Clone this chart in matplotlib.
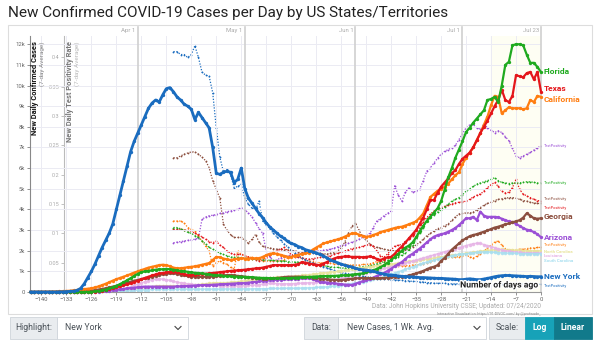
import numpy as np
import matplotlib.pyplot as plt
import matplotlib.patheffects as pe
from matplotlib.patches import Rectangle
from matplotlib.lines import Line2D

plt.rcParams['font.family'] = ['Roboto', 'DejaVu Sans']

W, H = 600, 341

# day offsets relative to Jul 23 (day 0)
days = np.arange(-143, 1)
pos_days = np.arange(-103, 1)
pale_days = np.arange(-120, 1)

# new daily cases, 7-day average, in thousands
ny_cases = [0, 0, 0, 0, 0, 0, 0, 0, 0.01, 0.01, 0.02, 0.03,
            0.04, 0.08, 0.18, 0.4, 0.7, 1.0, 1.35, 1.75, 2.15, 2.5, 2.85, 3.3,
            4.0, 4.7, 5.4, 6.1, 6.8, 7.3, 7.7, 8.1, 8.5, 8.9, 9.15, 9.3,
            9.2, 9.55, 9.85, 9.9, 9.7, 9.45, 9.3, 9.1, 9.0, 8.85, 8.35, 8.7,
            8.45, 8.2, 7.95, 7.0, 5.75, 5.7, 5.8, 5.85, 5.8, 5.3, 5.45, 6.0,
            5.0, 4.55, 4.3, 4.05, 3.8, 3.6, 3.35, 3.15, 3.0, 2.85, 2.7, 2.6,
            2.45, 2.35, 2.3, 2.2, 2.15, 2.05, 2.0, 1.95, 1.9, 1.82, 1.75, 1.65,
            1.55, 1.48, 1.42, 1.35, 1.3, 1.25, 1.22, 1.15, 1.1, 1.08, 1.06, 1.04,
            1.0, 0.95, 0.9, 0.87, 0.84, 0.82, 0.8, 0.78, 0.76, 0.75, 0.74, 0.73,
            0.72, 0.7, 0.7, 0.69, 0.68, 0.67, 0.66, 0.66, 0.65, 0.64, 0.63, 0.62,
            0.6, 0.6, 0.62, 0.64, 0.62, 0.6, 0.6, 0.63, 0.66, 0.7, 0.74, 0.77,
            0.79, 0.8, 0.8, 0.79, 0.78, 0.77, 0.76, 0.75, 0.76, 0.75, 0.74, 0.74]

fl_cases = [0, 0, 0, 0, 0, 0, 0, 0, 0, 0, 0, 0,
            0, 0, 0, 0, 0, 0.01, 0.03, 0.05, 0.08, 0.12, 0.17, 0.23,
            0.3, 0.38, 0.47, 0.57, 0.67, 0.78, 0.88, 0.96, 1.0, 1.02, 1.05, 1.08,
            1.1, 1.1, 1.12, 1.1, 1.08, 1.05, 1.02, 1.0, 0.98, 0.95, 0.93, 0.92,
            0.9, 0.88, 0.85, 0.83, 0.82, 0.8, 0.78, 0.76, 0.76, 0.75, 0.74, 0.74,
            0.73, 0.72, 0.72, 0.7, 0.69, 0.68, 0.68, 0.67, 0.66, 0.66, 0.66, 0.66,
            0.67, 0.68, 0.69, 0.7, 0.71, 0.72, 0.73, 0.74, 0.75, 0.76, 0.77, 0.77,
            0.78, 0.78, 0.79, 0.8, 0.81, 0.82, 0.84, 0.86, 0.88, 0.9, 0.95, 1.0,
            1.05, 1.12, 1.2, 1.3, 1.42, 1.55, 1.7, 1.85, 2.0, 2.15, 2.25, 2.4,
            2.65, 2.95, 3.2, 3.45, 3.65, 3.85, 4.05, 4.4, 4.95, 5.55, 6.0, 6.5,
            6.9, 7.3, 7.75, 7.95, 8.2, 8.4, 8.6, 8.8, 9.3, 9.35, 9.45, 9.2,
            10.0, 11.0, 11.15, 11.95, 12.0, 12.0, 11.95, 11.5, 11.1, 11.1, 10.9, 10.65]

tx_cases = [0, 0, 0, 0, 0, 0, 0, 0, 0, 0, 0, 0,
            0, 0, 0, 0, 0, 0, 0.02, 0.04, 0.07, 0.1, 0.14, 0.18,
            0.22, 0.27, 0.32, 0.37, 0.42, 0.48, 0.55, 0.62, 0.68, 0.74, 0.8, 0.85,
            0.9, 0.92, 0.95, 0.97, 0.98, 0.95, 0.9, 0.86, 0.83, 0.82, 0.83, 0.85,
            0.87, 0.88, 0.9, 0.92, 0.94, 0.96, 0.98, 1.0, 1.02, 1.03, 1.05, 1.06,
            1.08, 1.1, 1.12, 1.14, 1.15, 1.18, 1.22, 1.26, 1.3, 1.3, 1.3, 1.3,
            1.3, 1.3, 1.32, 1.35, 1.45, 1.42, 1.38, 1.35, 1.32, 1.3, 1.38, 1.45,
            1.55, 1.62, 1.68, 1.7, 1.72, 1.72, 1.7, 1.7, 1.7, 1.68, 1.7, 1.72,
            1.68, 1.6, 1.55, 1.62, 1.68, 1.7, 1.85, 2.05, 2.2, 2.4, 2.6, 2.8,
            3.0, 3.3, 3.6, 4.0, 4.45, 4.45, 4.8, 5.1, 5.3, 5.5, 5.75, 5.9,
            6.2, 6.45, 6.6, 6.75, 7.0, 7.35, 7.7, 8.0, 8.3, 8.65, 9.0, 9.3,
            9.8, 9.3, 9.2, 9.5, 10.5, 10.45, 10.4, 10.6, 10.66, 10.3, 10.66, 9.7]

ca_cases = [0, 0, 0.01, 0.01, 0.01, 0.01, 0.02, 0.02, 0.03, 0.04, 0.05, 0.06,
            0.08, 0.1, 0.12, 0.14, 0.16, 0.18, 0.22, 0.27, 0.33, 0.4, 0.47, 0.55,
            0.62, 0.68, 0.74, 0.8, 0.87, 0.94, 1.0, 1.06, 1.12, 1.18, 1.22, 1.26,
            1.3, 1.32, 1.3, 1.25, 1.18, 1.15, 1.15, 1.17, 1.2, 1.22, 1.24, 1.28,
            1.32, 1.36, 1.4, 1.55, 1.7, 1.68, 1.62, 1.58, 1.55, 1.58, 1.62, 1.63,
            1.62, 1.62, 1.63, 1.63, 1.63, 1.7, 1.78, 1.85, 1.87, 1.85, 1.8, 1.75,
            1.7, 1.7, 1.75, 1.8, 1.85, 1.87, 1.9, 2.05, 2.15, 2.25, 2.35, 2.4,
            2.45, 2.5, 2.55, 2.6, 2.68, 2.76, 2.84, 2.84, 2.78, 2.72, 2.67, 2.7,
            2.76, 2.82, 2.9, 2.95, 3.0, 3.05, 3.1, 3.14, 3.16, 3.22, 3.28, 3.35,
            3.42, 3.6, 3.8, 4.2, 4.6, 4.75, 4.9, 5.0, 5.1, 5.25, 5.45, 5.65,
            5.8, 6.2, 6.5, 6.75, 7.0, 7.35, 7.7, 8.1, 8.5, 9.05, 9.5, 9.45,
            8.65, 8.8, 8.95, 8.9, 8.9, 8.9, 8.85, 8.9, 9.3, 9.2, 9.5, 9.45]

ga_cases = [0, 0, 0, 0, 0, 0, 0, 0, 0, 0, 0, 0,
            0, 0, 0.01, 0.02, 0.04, 0.06, 0.09, 0.12, 0.15, 0.18, 0.22, 0.26,
            0.3, 0.35, 0.4, 0.45, 0.5, 0.55, 0.58, 0.62, 0.66, 0.7, 0.74, 0.78,
            0.82, 0.86, 0.88, 0.9, 0.9, 0.88, 0.84, 0.8, 0.77, 0.75, 0.74, 0.74,
            0.73, 0.74, 0.74, 0.75, 0.76, 0.78, 0.8, 0.82, 0.82, 0.8, 0.78, 0.76,
            0.74, 0.72, 0.7, 0.68, 0.66, 0.65, 0.65, 0.66, 0.67, 0.68, 0.7, 0.72,
            0.74, 0.74, 0.74, 0.74, 0.74, 0.73, 0.72, 0.7, 0.68, 0.65, 0.63, 0.62,
            0.6, 0.59, 0.58, 0.58, 0.6, 0.62, 0.64, 0.66, 0.67, 0.68, 0.68, 0.67,
            0.66, 0.66, 0.67, 0.68, 0.7, 0.71, 0.72, 0.73, 0.74, 0.76, 0.8, 0.85,
            0.9, 0.96, 1.02, 1.1, 1.18, 1.22, 1.3, 1.5, 1.65, 1.85, 2.05, 2.2,
            2.35, 2.5, 2.6, 2.7, 2.76, 2.8, 2.86, 2.92, 2.98, 3.05, 3.12, 3.16,
            3.22, 3.28, 3.32, 3.38, 3.42, 3.48, 3.6, 3.81, 3.7, 3.57, 3.55, 3.57]

az_cases = [0, 0, 0, 0, 0, 0, 0, 0, 0, 0, 0, 0,
            0, 0, 0, 0, 0, 0, 0.01, 0.02, 0.03, 0.05, 0.07, 0.09,
            0.11, 0.13, 0.15, 0.17, 0.19, 0.21, 0.23, 0.25, 0.26, 0.26, 0.26, 0.26,
            0.26, 0.26, 0.26, 0.26, 0.26, 0.27, 0.27, 0.28, 0.29, 0.3, 0.31, 0.32,
            0.33, 0.34, 0.34, 0.35, 0.36, 0.37, 0.38, 0.39, 0.4, 0.41, 0.42, 0.42,
            0.43, 0.45, 0.47, 0.49, 0.51, 0.53, 0.55, 0.57, 0.58, 0.59, 0.6, 0.61,
            0.62, 0.63, 0.64, 0.65, 0.66, 0.66, 0.66, 0.62, 0.56, 0.5, 0.47, 0.45,
            0.43, 0.42, 0.4, 0.38, 0.36, 0.35, 0.34, 0.4, 0.46, 0.52, 0.56, 0.62,
            0.7, 0.78, 0.85, 0.92, 1.02, 1.12, 1.25, 1.35, 1.45, 1.6, 1.75, 1.85,
            1.98, 2.1, 2.25, 2.4, 2.55, 2.68, 2.75, 2.8, 2.84, 2.92, 3.0, 3.1,
            3.24, 3.4, 3.57, 3.57, 3.64, 3.48, 3.89, 3.7, 3.64, 3.64, 3.64, 3.62,
            3.55, 3.48, 3.42, 3.38, 3.3, 3.2, 3.1, 3.02, 2.98, 2.9, 2.8, 2.65]

# faint background states, day -120 .. 0
nc_cases = [0.05, 0.06, 0.08, 0.1, 0.12, 0.14, 0.16, 0.18, 0.2, 0.22, 0.24,
            0.26, 0.28, 0.3, 0.3, 0.3, 0.3, 0.3, 0.3, 0.31, 0.32, 0.33, 0.34,
            0.35, 0.36, 0.38, 0.4, 0.42, 0.44, 0.45, 0.45, 0.45, 0.46, 0.47, 0.48,
            0.5, 0.52, 0.54, 0.56, 0.58, 0.6, 0.62, 0.64, 0.66, 0.68, 0.7, 0.72,
            0.72, 0.73, 0.74, 0.75, 0.76, 0.78, 0.8, 0.82, 0.84, 0.86, 0.88, 0.9,
            0.92, 0.94, 0.96, 0.98, 1.0, 1.02, 1.05, 1.08, 1.1, 1.12, 1.15, 1.18,
            1.2, 1.22, 1.25, 1.28, 1.3, 1.3, 1.32, 1.35, 1.38, 1.4, 1.42, 1.45,
            1.48, 1.5, 1.52, 1.55, 1.58, 1.6, 1.62, 1.65, 1.68, 1.7, 1.72, 1.75,
            1.78, 1.8, 1.82, 1.85, 1.88, 1.9, 1.92, 1.95, 1.98, 2.0, 2.02, 2.03,
            2.05, 2.05, 2.06, 2.05, 2.04, 2.03, 2.02, 2.02, 2.01, 2.0, 2.0, 2.0,
            2.0, 2.0]
la_cases = [0.05, 0.08, 0.12, 0.16, 0.2, 0.26, 0.32, 0.38, 0.44, 0.5, 0.55,
            0.6, 0.62, 0.64, 0.62, 0.6, 0.56, 0.52, 0.48, 0.45, 0.42, 0.4, 0.38,
            0.36, 0.35, 0.34, 0.33, 0.33, 0.32, 0.32, 0.31, 0.31, 0.3, 0.3, 0.3,
            0.3, 0.3, 0.31, 0.32, 0.33, 0.34, 0.36, 0.38, 0.4, 0.42, 0.42, 0.41,
            0.4, 0.4, 0.4, 0.4, 0.41, 0.42, 0.43, 0.44, 0.45, 0.46, 0.47, 0.48,
            0.5, 0.52, 0.55, 0.58, 0.62, 0.66, 0.7, 0.74, 0.78, 0.82, 0.86, 0.9,
            0.94, 0.98, 1.02, 1.06, 1.1, 1.14, 1.18, 1.22, 1.26, 1.3, 1.35, 1.4,
            1.45, 1.5, 1.55, 1.6, 1.65, 1.7, 1.75, 1.8, 1.85, 1.9, 1.95, 2.0,
            2.05, 2.1, 2.15, 2.2, 2.25, 2.3, 2.34, 2.36, 2.35, 2.3, 2.25, 2.2,
            2.15, 2.1, 2.05, 2.0, 1.98, 1.96, 1.94, 1.92, 1.9, 1.9, 1.9, 1.9,
            1.9, 1.9]
sc_cases = [0.02, 0.03, 0.04, 0.05, 0.06, 0.07, 0.08, 0.09, 0.1, 0.11, 0.12,
            0.13, 0.14, 0.14, 0.14, 0.14, 0.14, 0.14, 0.14, 0.14, 0.14, 0.14, 0.14,
            0.14, 0.14, 0.14, 0.14, 0.14, 0.14, 0.14, 0.14, 0.15, 0.15, 0.15, 0.15,
            0.15, 0.15, 0.15, 0.15, 0.15, 0.16, 0.16, 0.16, 0.16, 0.17, 0.17, 0.17,
            0.17, 0.18, 0.18, 0.18, 0.18, 0.19, 0.19, 0.2, 0.2, 0.21, 0.22, 0.23,
            0.24, 0.25, 0.27, 0.29, 0.31, 0.33, 0.35, 0.38, 0.41, 0.44, 0.47, 0.5,
            0.54, 0.58, 0.62, 0.66, 0.7, 0.75, 0.8, 0.86, 0.92, 0.98, 1.04, 1.1,
            1.16, 1.22, 1.28, 1.34, 1.4, 1.45, 1.5, 1.55, 1.6, 1.64, 1.68, 1.72,
            1.76, 1.8, 1.82, 1.84, 1.86, 1.88, 1.9, 1.92, 1.93, 1.94, 1.94, 1.93,
            1.92, 1.91, 1.9, 1.89, 1.88, 1.87, 1.87, 1.86, 1.86, 1.86, 1.86, 1.86,
            1.86, 1.86]

# test positivity rate, 7-day average, day -103 .. 0
ny_pos = [0.41, 0.41, 0.405, 0.405, 0.40, 0.405, 0.42, 0.40, 0.375, 0.37, 0.368,
          0.34, 0.28, 0.23, 0.205, 0.21, 0.2, 0.178, 0.18, 0.184, 0.16, 0.15, 0.143,
          0.14, 0.155, 0.121, 0.115, 0.108, 0.1, 0.094, 0.088, 0.082, 0.077, 0.072,
          0.066, 0.062, 0.058, 0.055, 0.052, 0.05, 0.047, 0.045, 0.043, 0.041, 0.039,
          0.037, 0.035, 0.033, 0.032, 0.031, 0.03, 0.029, 0.028, 0.027, 0.026, 0.025,
          0.024, 0.023, 0.023, 0.022, 0.022, 0.021, 0.021, 0.02, 0.02, 0.019, 0.019,
          0.018, 0.018, 0.017, 0.017, 0.016, 0.016, 0.015, 0.015, 0.015, 0.015, 0.014,
          0.014, 0.014, 0.014, 0.014, 0.014, 0.014, 0.014, 0.013, 0.013, 0.013, 0.013,
          0.013, 0.013, 0.013, 0.013, 0.013, 0.013, 0.013, 0.013, 0.013, 0.013, 0.013,
          0.013, 0.013, 0.013, 0.013]
fl_pos = [0.11, 0.11, 0.108, 0.105, 0.102, 0.1, 0.096, 0.093, 0.087, 0.082, 0.076,
          0.073, 0.07, 0.066, 0.064, 0.062, 0.06, 0.059, 0.059, 0.058, 0.058, 0.057,
          0.057, 0.056, 0.056, 0.055, 0.055, 0.054, 0.054, 0.053, 0.053, 0.053, 0.052,
          0.052, 0.051, 0.051, 0.05, 0.05, 0.05, 0.048, 0.047, 0.046, 0.045, 0.044,
          0.043, 0.042, 0.042, 0.041, 0.041, 0.04, 0.04, 0.041, 0.042, 0.043, 0.044,
          0.045, 0.046, 0.048, 0.05, 0.052, 0.054, 0.056, 0.058, 0.06, 0.063, 0.067,
          0.072, 0.08, 0.09, 0.1, 0.11, 0.121, 0.127, 0.132, 0.136, 0.14, 0.145, 0.15,
          0.155, 0.158, 0.161, 0.166, 0.172, 0.176, 0.18, 0.184, 0.186, 0.188, 0.19,
          0.192, 0.195, 0.19, 0.187, 0.186, 0.185, 0.186, 0.186, 0.186, 0.187, 0.188,
          0.188, 0.187, 0.186, 0.186]
tx_pos = [0.107, 0.107, 0.107, 0.106, 0.105, 0.104, 0.1, 0.098, 0.094, 0.09, 0.086,
          0.084, 0.087, 0.08, 0.076, 0.07, 0.066, 0.064, 0.064, 0.064, 0.062, 0.06,
          0.057, 0.055, 0.053, 0.055, 0.058, 0.063, 0.068, 0.07, 0.073, 0.076, 0.07,
          0.064, 0.06, 0.059, 0.058, 0.057, 0.056, 0.057, 0.058, 0.059, 0.059, 0.06,
          0.062, 0.064, 0.066, 0.068, 0.07, 0.072, 0.074, 0.075, 0.076, 0.078, 0.08,
          0.081, 0.078, 0.07, 0.062, 0.059, 0.065, 0.072, 0.078, 0.08, 0.081, 0.085,
          0.09, 0.095, 0.1, 0.11, 0.12, 0.127, 0.133, 0.138, 0.142, 0.144, 0.146,
          0.148, 0.15, 0.152, 0.153, 0.154, 0.155, 0.158, 0.162, 0.165, 0.167, 0.172,
          0.178, 0.183, 0.187, 0.18, 0.172, 0.169, 0.17, 0.178, 0.192, 0.175, 0.167,
          0.164, 0.161, 0.158, 0.156, 0.155]
ga_pos = [0.229, 0.229, 0.232, 0.235, 0.237, 0.239, 0.239, 0.235, 0.23, 0.224, 0.212,
          0.19, 0.175, 0.16, 0.116, 0.105, 0.098, 0.093, 0.093, 0.093, 0.088, 0.083,
          0.09, 0.098, 0.085, 0.078, 0.076, 0.075, 0.074, 0.073, 0.073, 0.072, 0.072,
          0.071, 0.07, 0.069, 0.068, 0.068, 0.067, 0.067, 0.066, 0.066, 0.065, 0.065,
          0.066, 0.067, 0.07, 0.075, 0.085, 0.1, 0.112, 0.118, 0.105, 0.095, 0.088,
          0.082, 0.078, 0.076, 0.075, 0.073, 0.072, 0.071, 0.07, 0.07, 0.071, 0.072,
          0.074, 0.077, 0.08, 0.085, 0.09, 0.096, 0.1, 0.104, 0.108, 0.11, 0.113,
          0.116, 0.122, 0.128, 0.133, 0.134, 0.135, 0.135, 0.136, 0.14, 0.144, 0.148,
          0.151, 0.153, 0.156, 0.158, 0.159, 0.16, 0.161, 0.161, 0.16, 0.158, 0.156,
          0.155, 0.153, 0.152, 0.151, 0.151]
az_pos = [0.084, 0.085, 0.086, 0.087, 0.088, 0.089, 0.09, 0.092, 0.124, 0.128, 0.13,
          0.131, 0.132, 0.134, 0.135, 0.137, 0.138, 0.14, 0.141, 0.144, 0.14, 0.135,
          0.128, 0.118, 0.108, 0.1, 0.07, 0.06, 0.053, 0.055, 0.058, 0.06, 0.062,
          0.063, 0.064, 0.065, 0.066, 0.067, 0.068, 0.069, 0.07, 0.07, 0.071, 0.072,
          0.073, 0.075, 0.077, 0.079, 0.081, 0.083, 0.085, 0.087, 0.09, 0.093, 0.097,
          0.1, 0.11, 0.121, 0.125, 0.13, 0.134, 0.138, 0.181, 0.165, 0.155, 0.17,
          0.178, 0.17, 0.172, 0.175, 0.19, 0.206, 0.212, 0.22, 0.228, 0.235, 0.24,
          0.243, 0.246, 0.25, 0.26, 0.27, 0.28, 0.285, 0.286, 0.28, 0.278, 0.287,
          0.28, 0.276, 0.272, 0.275, 0.272, 0.265, 0.258, 0.245, 0.232, 0.229, 0.232,
          0.235, 0.238, 0.242, 0.246, 0.249]
ca_pos = [0.121, 0.121, 0.121, 0.118, 0.11, 0.107, 0.104, 0.095, 0.087, 0.078, 0.07,
          0.044, 0.05, 0.053, 0.05, 0.047, 0.042, 0.039, 0.07, 0.064, 0.062, 0.06,
          0.059, 0.057, 0.055, 0.053, 0.053, 0.053, 0.053, 0.053, 0.053, 0.055, 0.058,
          0.062, 0.064, 0.062, 0.058, 0.055, 0.053, 0.052, 0.051, 0.05, 0.05, 0.049,
          0.049, 0.048, 0.048, 0.047, 0.047, 0.046, 0.046, 0.046, 0.046, 0.047, 0.047,
          0.048, 0.05, 0.052, 0.053, 0.052, 0.05, 0.048, 0.046, 0.045, 0.045, 0.045,
          0.045, 0.046, 0.046, 0.047, 0.048, 0.05, 0.052, 0.054, 0.056, 0.058, 0.059,
          0.059, 0.059, 0.06, 0.06, 0.062, 0.063, 0.06, 0.058, 0.061, 0.065, 0.07,
          0.075, 0.08, 0.085, 0.087, 0.08, 0.074, 0.072, 0.071, 0.072, 0.073, 0.073,
          0.074, 0.075, 0.075, 0.076, 0.076]

month_days = [-113, -83, -52, -22, 0]
month_labels = ['Apr 1', 'May 1', 'Jun 1', 'Jul 1', 'Jul 23']
case_ticks = list(range(0, 13))
case_ticklabels = ['0'] + ['%dk' % v for v in range(1, 13)]
pos_ticks = [0.05, 0.1, 0.15, 0.2, 0.25, 0.3, 0.35, 0.4]

states = [
    # name, cases, positivity, colour, label y (k), positivity label y
    ('Arizona', az_cases, az_pos, '#9b4fd6', 2.65, 0.249),
    ('Georgia', ga_cases, ga_pos, '#8c4f3f', 3.64, 0.158),
    ('California', ca_cases, ca_pos, '#ff7d10', 9.3, 0.080),
    ('Texas', tx_cases, tx_pos, '#e4161b', 9.85, 0.144),
    ('Florida', fl_cases, fl_pos, '#1faa1f', 10.66, 0.186),
    ('New York', ny_cases, ny_pos, '#1a6cbf', 0.73, 0.010),
]
pale_states = [
    ('North Carolina', nc_cases, '#e8e39a', 1.95),
    ('Louisiana', la_cases, '#e6b3e6', 1.72),
    ('South Carolina', sc_cases, '#a8dff0', 1.49),
]


def fx(x):
    return x / W


def fy(y):
    return 1 - y / H


fig = plt.figure(figsize=(6, 3.41), dpi=100)

# chart panel frame
fig.patches.append(Rectangle((fx(8), fy(314)), fx(584), 289 / H, transform=fig.transFigure,
                             fill=False, ec='#dddddd', lw=0.8))
fig.text(fx(8), fy(13), 'New Confirmed COVID-19 Cases per Day by US States/Territories',
         fontsize=11, color='#222222', va='center', ha='left')

ax = fig.add_axes([fx(30), fy(292), (541 - 30) / W, (292 - 36) / H])
ax2 = ax.twinx()
ax.set_zorder(ax2.get_zorder() + 1)
ax.patch.set_visible(False)

ax.set_xlim(-143.2, 0)
ax.set_ylim(0, 12.4)
ax2.set_ylim(0, 12.4 / 28.4)

# recent two weeks shaded
ax2.axvspan(-14, 0, color='#fefef3', zorder=0)

ax.set_xticks(range(-140, 1, 7))
ax.set_yticks(case_ticks)
ax.set_yticklabels(case_ticklabels)
ax.grid(True, color='#ebebf3', lw=0.7)
ax.set_axisbelow(True)
ax.tick_params(axis='both', labelsize=4.3, colors='#666666', length=2, width=0.5, pad=1.5)
for s in ['top', 'right']:
    ax.spines[s].set_visible(False)
ax.spines['left'].set_color('#888888')
ax.spines['bottom'].set_color('#999999')
ax.spines['left'].set_linewidth(0.8)
ax.spines['bottom'].set_linewidth(0.8)

ax2.yaxis.tick_left()
ax2.spines['left'].set_position(('axes', (64 - 30) / 511))
ax2.spines['left'].set_visible(True)
ax2.spines['left'].set_color('#bbbbbb')
for s in ['top', 'right', 'bottom']:
    ax2.spines[s].set_visible(False)
ax2.set_yticks(pos_ticks)
ax2.set_yticklabels([('%.2f' % v).rstrip('0') for v in pos_ticks])
ax2.tick_params(axis='y', labelsize=4.0, colors='#aaaaaa', length=2, width=0.5, pad=1.5)

# month markers
for d, lab in zip(month_days, month_labels):
    ax.axvline(d, ymin=0, ymax=1.035, color='#d0d0d0', lw=1.2, clip_on=False, zorder=1)
    ax.text(d - 0.6, 1.02, lab, transform=ax.get_xaxis_transform(), fontsize=4.3,
            color='#aaaaaa', ha='right', va='center')

# faint states
for name, vals, col, ly in pale_states:
    ax.plot(pale_days, vals, color=col, lw=1.0, marker='o', ms=1.6, alpha=0.8, zorder=2)
    ax.text(0.8, ly, name, color=col, fontsize=3.2, fontweight='bold', va='center',
            ha='left', clip_on=False)

# positivity (dotted, secondary axis)
for name, cases, pos, col, ly, py in states:
    ax2.plot(pos_days, pos, color=col, lw=0.9, ls=(0, (1, 1.3)), marker='o', ms=1.3,
             mew=0, zorder=3)
    ax.text(0.8, py * 28.4, 'TestPositivity', color=col, fontsize=2.8, va='center',
            ha='left', clip_on=False)

# cases (solid)
for name, cases, pos, col, ly, py in states:
    lw = 2.0 if name == 'New York' else 1.6
    ax.plot(days, cases, color=col, lw=lw, marker='o', ms=2.4, mew=0, zorder=5,
            clip_on=False)
    ax.text(0.8, ly, name, color=col, fontsize=6.0, fontweight='bold', va='center',
            ha='left', clip_on=False)

ax.text(-0.8, 0.34, 'Number of days ago', fontsize=6.2, fontweight='bold', color='#222222',
        ha='right', va='center', zorder=10,
        path_effects=[pe.withStroke(linewidth=2, foreground='white')])

# axis titles
fig.text(fx(35), fy(41), 'New Daily Confirmed Cases', rotation=90, fontsize=5.4,
         fontweight='bold', color='#111111', ha='center', va='top')
fig.text(fx(42), fy(41), '(7-day Average)', rotation=90, fontsize=4.6,
         color='#888888', ha='center', va='top')
fig.text(fx(70), fy(41), 'New Daily Test Positivity Rate', rotation=90, fontsize=5.4,
         fontweight='bold', color='#777777', ha='center', va='top')
fig.text(fx(77), fy(41), '(7-day Average)', rotation=90, fontsize=4.6,
         color='#bbbbbb', ha='center', va='top')

fig.text(fx(541), fy(307), 'Data: John Hopkins University CSSE; Updated: 07/24/2020',
         fontsize=4.7, color='#aaaaaa', ha='right', va='center')
fig.text(fx(541), fy(313.5), 'Interactive Visualization: https://91-DIVOC.com/ by @profwade_',
         fontsize=2.6, color='#888888', ha='right', va='center')


# controls row
def box(x0, x1, fc, ec='#ced4da'):
    fig.patches.append(Rectangle((fx(x0), fy(339)), fx(x1 - x0), 22 / H,
                                 transform=fig.transFigure, fc=fc, ec=ec, lw=0.6))


def chevron(x):
    fig.lines.append(Line2D([fx(x - 3), fx(x), fx(x + 3)], [fy(326.5), fy(329.5), fy(326.5)],
                            transform=fig.transFigure, color='#444444', lw=0.8))


box(10, 57, '#e9ecef')
box(57, 188, 'white')
fig.text(fx(33.5), fy(328), 'Highlight:', fontsize=6.2, color='#495057', ha='center', va='center')
fig.text(fx(65), fy(328), 'New York', fontsize=6.2, color='#495057', ha='left', va='center')
chevron(178)

box(304, 338, '#e9ecef')
box(338, 486, 'white')
fig.text(fx(321), fy(328), 'Data:', fontsize=6.2, color='#495057', ha='center', va='center')
fig.text(fx(347), fy(328), 'New Cases, 1 Wk. Avg.', fontsize=6.2, color='#495057',
         ha='left', va='center')
chevron(477)

box(489, 525, '#e9ecef')
box(525, 554, '#17a2b8', ec='#17a2b8')
box(554, 592, '#117a8b', ec='#117a8b')
fig.text(fx(507), fy(328), 'Scale:', fontsize=6.2, color='#495057', ha='center', va='center')
fig.text(fx(539.5), fy(328), 'Log', fontsize=6.2, color='white', fontweight='bold',
         ha='center', va='center')
fig.text(fx(573), fy(328), 'Linear', fontsize=6.2, color='white', fontweight='bold',
         ha='center', va='center')

fig.savefig('out.png', dpi=100)
